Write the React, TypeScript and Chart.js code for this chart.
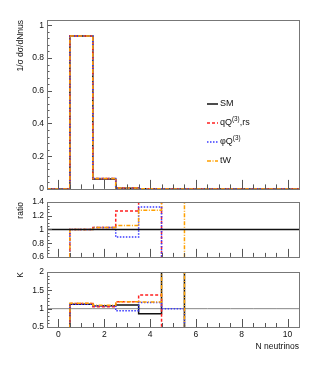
import React, { useEffect, useRef } from 'react';
import { Chart, registerables } from 'chart.js';
Chart.register(...registerables);

const FONT = '"Liberation Sans", Arial, Helvetica, sans-serif';

// bin edges of the histograms (bins centred on 0..10)
const BIN_EDGES = [-0.5, 0.5, 1.5, 2.5, 3.5, 4.5, 5.5, 6.5, 7.5, 8.5, 9.5, 10.5];

// top panel: 1/sigma dsigma/dNnus
const SM_TOP = [0, 0.935, 0.061, 0.0045, 0.0004, 0.00003, 0, 0, 0, 0, 0];
const QQ_TOP = [0, 0.935, 0.063, 0.0057, 0.0007, 0, 0, 0, 0, 0, 0];
const PHI_TOP = [0, 0.935, 0.063, 0.004, 0.0005, 0, 0, 0, 0, 0, 0];
const TW_TOP = [0, 0.935, 0.063, 0.0048, 0.0005, 0.00005, 0, 0, 0, 0, 0];

// ratio panel
const SM_RATIO = [1, 1, 1, 1, 1, 1, 1, 1, 1, 1, 1];
const QQ_RATIO = [0, 1.0, 1.03, 1.27, 1.55, 0, 0, 0, 0, 0, 0];
const PHI_RATIO = [0, 1.0, 1.03, 0.89, 1.33, 0, 0, 0, 0, 0, 0];
const TW_RATIO = [0, 1.0, 1.03, 1.06, 1.28, 1.6, 0, 0, 0, 0, 0];

// K panel
const REF_K = [1, 1, 1, 1, 1, 1, 1, 1, 1, 1, 1];
const SM_K = [0, 1.12, 1.08, 1.1, 0.86, 2.5, 0, 0, 0, 0, 0];
const QQ_K = [0, 1.14, 1.05, 1.19, 1.37, 0, 0, 0, 0, 0, 0];
const PHI_K = [0, 1.12, 1.08, 0.94, 1.17, 1.0, 0, 0, 0, 0, 0];
const TW_K = [0, 1.15, 1.09, 1.19, 1.18, 2.5, 0, 0, 0, 0, 0];

// tick labels
const X_TICKS = [0, 2, 4, 6, 8, 10];
const TOP_Y_TICKS = [0, 0.2, 0.4, 0.6, 0.8, 1];
const RATIO_Y_TICKS = [0.6, 0.8, 1, 1.2, 1.4];
const K_Y_TICKS = [0.5, 1, 1.5, 2];

const LEGEND = [
  { parts: [{ t: 'SM' }], style: 'sm' },
  { parts: [{ t: 'qQ' }, { t: '(3)', sup: true }, { t: ',rs' }], style: 'red' },
  { parts: [{ t: 'φQ' }, { t: '(3)', sup: true }], style: 'blue' },
  { parts: [{ t: 'tW' }], style: 'orange' },
];

const STYLES: Record<string, any> = {
  sm: { borderColor: '#111111', borderWidth: 1.5, borderDash: [] },
  red: { borderColor: '#ff2020', borderWidth: 1.5, borderDash: [3, 2] },
  blue: { borderColor: '#3a3aff', borderWidth: 1.5, borderDash: [1.5, 1.5] },
  orange: { borderColor: '#ffa000', borderWidth: 1.5, borderDash: [4, 1.5, 1, 1.5] },
  ref: { borderColor: '#888888', borderWidth: 1, borderDash: [] },
};

function steps(vals: number[]) {
  return BIN_EDGES.map((x, i) => ({ x, y: vals[Math.min(i, vals.length - 1)] }));
}

function ds(vals: number[], style: string, order: number, clip: number) {
  return {
    type: 'line',
    data: steps(vals),
    stepped: 'before',
    pointRadius: 0,
    fill: false,
    tension: 0,
    clip,
    order,
    ...STYLES[style],
  };
}

function drawRich(ctx: CanvasRenderingContext2D, parts: any[], x: number, y: number, size: number) {
  let cx = x;
  for (const p of parts) {
    const s = p.sup ? size * 0.7 : size;
    ctx.font = `${s}px ${FONT}`;
    ctx.textBaseline = 'middle';
    ctx.textAlign = 'left';
    ctx.fillText(p.t, cx, p.sup ? y - size * 0.4 : y);
    cx += ctx.measureText(p.t).width;
  }
}

function framePlugin(opts: any) {
  return {
    id: 'frame_' + opts.name,
    afterDatasetsDraw(chart: any) {
      const { ctx, chartArea: a, scales } = chart;
      const xs = scales.x;
      const ys = scales.y;
      ctx.save();
      // x ticks (inside, from bottom)
      ctx.strokeStyle = '#555';
      ctx.lineWidth = 1;
      for (let v = 0; v <= 10.001; v += 0.5) {
        const px = Math.round(xs.getPixelForValue(v)) + 0.5;
        const major = Math.abs(v / 2 - Math.round(v / 2)) < 1e-6;
        const len = major ? opts.xMajor : opts.xMajor / 2;
        ctx.beginPath();
        ctx.moveTo(px, a.bottom);
        ctx.lineTo(px, a.bottom - len);
        ctx.stroke();
      }
      // y ticks (inside, from left)
      const yt = opts.yTicks as number[];
      const step = yt[1] - yt[0];
      const minorStep = step / opts.yMinorDiv;
      for (let v = ys.min; v <= ys.max + 1e-9; v += minorStep) {
        const py = Math.round(ys.getPixelForValue(v)) + 0.5;
        const isMajor = yt.some((t) => Math.abs(t - v) < 1e-6);
        const len = isMajor ? 5 : 2.5;
        ctx.beginPath();
        ctx.moveTo(a.left, py);
        ctx.lineTo(a.left + len, py);
        ctx.stroke();
      }
      // frame
      ctx.strokeStyle = '#777';
      ctx.lineWidth = 1;
      ctx.strokeRect(Math.round(a.left) + 0.5, Math.round(a.top) + 0.5, Math.round(a.right - a.left), Math.round(a.bottom - a.top));
      // y title
      ctx.fillStyle = '#111';
      ctx.font = `8.5px ${FONT}`;
      ctx.save();
      ctx.translate(21, a.top);
      ctx.rotate(-Math.PI / 2);
      ctx.textAlign = 'right';
      ctx.textBaseline = 'middle';
      ctx.fillText(opts.yTitle, 0, 0);
      ctx.restore();
      if (opts.xTitle) {
        ctx.textAlign = 'right';
        ctx.textBaseline = 'middle';
        ctx.font = `8.5px ${FONT}`;
        ctx.fillText(opts.xTitle, a.right, a.bottom + 20);
      }
      if (opts.legend) {
        LEGEND.forEach((e, i) => {
          const y = 104 + i * 19;
          const st = STYLES[e.style];
          ctx.strokeStyle = st.borderColor;
          ctx.lineWidth = 1.5;
          ctx.setLineDash(st.borderDash);
          ctx.beginPath();
          ctx.moveTo(207, y);
          ctx.lineTo(218, y);
          ctx.stroke();
          ctx.setLineDash([]);
          ctx.fillStyle = '#111';
          drawRich(ctx, e.parts, 220, y, 9);
        });
      }
      ctx.restore();
    },
  };
}

function makeChart(canvas: HTMLCanvasElement, p: any) {
  return new Chart(canvas, {
    type: 'line',
    data: { datasets: p.datasets },
    options: {
      animation: false,
      responsive: false,
      maintainAspectRatio: false,
      events: [],
      layout: { padding: p.padding },
      plugins: { legend: { display: false }, tooltip: { enabled: false } },
      scales: {
        x: {
          type: 'linear',
          min: -0.5,
          max: 10.5,
          display: p.showX,
          grid: { display: false, drawTicks: false },
          border: { display: false },
          afterBuildTicks: (s: any) => {
            s.ticks = X_TICKS.map((v) => ({ value: v }));
          },
          afterFit: (s: any) => {
            s.height = p.showX ? 30 : 0;
          },
          ticks: {
            autoSkip: false,
            maxRotation: 0,
            padding: 3,
            color: '#111',
            font: { family: FONT, size: 8.5 },
            callback: (v: any) => String(v),
          },
        },
        y: {
          type: 'linear',
          min: p.yMin,
          max: p.yMax,
          grid: { display: false, drawTicks: false },
          border: { display: false },
          afterBuildTicks: (s: any) => {
            s.ticks = p.yTicks.map((v: number) => ({ value: v }));
          },
          afterFit: (s: any) => {
            s.width = 47;
          },
          ticks: {
            autoSkip: false,
            padding: 3,
            color: '#111',
            font: { family: FONT, size: 8.5 },
            callback: (v: any) => String(v),
          },
        },
      },
    } as any,
    plugins: [framePlugin(p)],
  });
}

export default function App() {
  const topRef = useRef<HTMLCanvasElement>(null);
  const ratioRef = useRef<HTMLCanvasElement>(null);
  const kRef = useRef<HTMLCanvasElement>(null);

  useEffect(() => {
    document.body.style.margin = '0';
    const charts: Chart[] = [];
    charts.push(
      makeChart(topRef.current!, {
        name: 'top',
        datasets: [
          ds(SM_TOP, 'sm', 4, 2),
          ds(QQ_TOP, 'red', 3, 2),
          ds(PHI_TOP, 'blue', 2, 2),
          ds(TW_TOP, 'orange', 1, 2),
        ],
        padding: { left: 0, right: 16, top: 20, bottom: 6 },
        showX: false,
        yMin: 0,
        yMax: 1.032,
        yTicks: TOP_Y_TICKS,
        yMinorDiv: 5,
        xMajor: 9,
        yTitle: '1/σ dσ/dNnus',
        legend: true,
      })
    );
    charts.push(
      makeChart(ratioRef.current!, {
        name: 'ratio',
        datasets: [
          ds(SM_RATIO, 'sm', 0, 1),
          ds(QQ_RATIO, 'red', 3, 0),
          ds(PHI_RATIO, 'blue', 2, 0),
          ds(TW_RATIO, 'orange', 1, 0),
        ],
        padding: { left: 0, right: 16, top: 6, bottom: 6 },
        showX: false,
        yMin: 0.6,
        yMax: 1.4,
        yTicks: RATIO_Y_TICKS,
        yMinorDiv: 4,
        xMajor: 8,
        yTitle: 'ratio',
      })
    );
    charts.push(
      makeChart(kRef.current!, {
        name: 'k',
        datasets: [
          ds(REF_K, 'ref', 5, 0),
          ds(SM_K, 'sm', 4, 0),
          ds(QQ_K, 'red', 3, 0),
          ds(PHI_K, 'blue', 2, 0),
          ds(TW_K, 'orange', 1, 0),
        ],
        padding: { left: 0, right: 16, top: 9, bottom: 20 },
        showX: true,
        yMin: 0.5,
        yMax: 2,
        yTicks: K_Y_TICKS,
        yMinorDiv: 5,
        xMajor: 8,
        yTitle: 'K',
        xTitle: 'N neutrinos',
      })
    );
    return () => charts.forEach((c) => c.destroy());
  }, []);

  return (
    <div style={{ position: 'fixed', left: 0, top: 0, width: 315, height: 377, background: '#fff' }}>
      <canvas ref={topRef} width={315} height={197} style={{ position: 'absolute', left: 0, top: 0, width: 315, height: 197 }} />
      <canvas ref={ratioRef} width={315} height={71} style={{ position: 'absolute', left: 0, top: 194, width: 315, height: 71 }} />
      <canvas ref={kRef} width={315} height={114} style={{ position: 'absolute', left: 0, top: 263, width: 315, height: 114 }} />
    </div>
  );
}
